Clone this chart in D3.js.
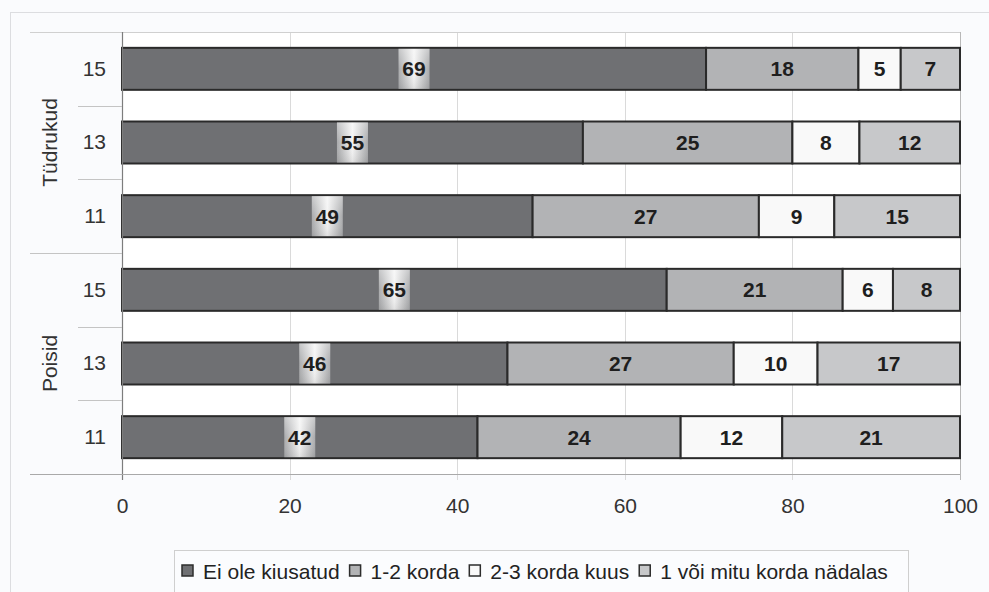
<!DOCTYPE html>
<html><head><meta charset="utf-8">
<script src="https://cdn.jsdelivr.net/npm/d3@7"></script>
<style>
html,body{margin:0;padding:0;background:#fafbfd;}
svg{display:block;font-family:"Liberation Sans",Arial,sans-serif;}
</style></head>
<body>
<svg id="chart" width="989" height="592"></svg>
<script>
const groups = ["Tüdrukud","Tüdrukud","Tüdrukud","Poisid","Poisid","Poisid"];
const ages = ["15","13","11","15","13","11"];
const seriesNames = ["Ei ole kiusatud","1-2 korda","2-3 korda kuus","1 või mitu korda nädalas"];
const neverBullied = [69,55,49,65,46,42];
const once12 = [18,25,27,21,27,24];
const monthly23 = [5,8,9,6,10,12];
const weekly = [7,12,15,8,17,21];
const xTicks = [0,20,40,60,80,100];
const colors = ["#6f7073","#b2b3b5","#f9f9f9","#c7c8ca"];

const FS = 21;
const svg = d3.select("#chart");
const W = 989, H = 592;
const m = {left:122, right:29, top:32, bottom:118};
const pw = W - m.left - m.right, ph = H - m.top - m.bottom;

// outer frame
svg.append("rect").attr("x",10.5).attr("y",12.5).attr("width",W).attr("height",H)
  .attr("fill","#fafbfd").attr("stroke","#dcdde0");

const rows = ages.map((a,i)=>({key:i, age:a, group:groups[i],
  s0:neverBullied[i], s1:once12[i], s2:monthly23[i], s3:weekly[i]}));

const x = d3.scaleLinear().domain([0,100]).range([m.left, m.left+pw]);
const y = d3.scaleBand().domain(rows.map(d=>d.key)).range([m.top, m.top+ph]).paddingInner(0.43).paddingOuter(0.215);
const yb = d3.scaleBand().domain(rows.map(d=>d.key)).range([m.top, m.top+ph]);

// plot area
svg.append("rect").attr("x",m.left).attr("y",m.top).attr("width",pw).attr("height",ph).attr("fill","#ffffff");

// gridlines
const g = svg.append("g");
g.selectAll("line.grid").data(xTicks.slice(1)).join("line")
  .attr("x1",d=>Math.round(x(d))+0.5).attr("x2",d=>Math.round(x(d))+0.5)
  .attr("y1",m.top).attr("y2",m.top+ph+6)
  .attr("stroke",(d)=> d===100 ? "#b8b8b8" : "#dadada").attr("stroke-width",1);
// top border
svg.append("line").attr("x1",30).attr("x2",m.left+pw).attr("y1",m.top+0.5).attr("y2",m.top+0.5).attr("stroke","#d0d0d0");

// stacked bars
const stack = d3.stack().keys(["s0","s1","s2","s3"]).offset(d3.stackOffsetExpand);
const stacked = stack(rows);
const defs = svg.append("defs");
const grad = defs.append("linearGradient").attr("id","lblgrad").attr("x1","0").attr("x2","1").attr("y1","0").attr("y2","0");
grad.append("stop").attr("offset","0%").attr("stop-color","#a9aaac");
grad.append("stop").attr("offset","50%").attr("stop-color","#f4f4f4");
grad.append("stop").attr("offset","100%").attr("stop-color","#a9aaac");
const grad2 = defs.append("linearGradient").attr("id","lblgrad2").attr("x1","0").attr("x2","0").attr("y1","0").attr("y2","1");
grad2.append("stop").attr("offset","0%").attr("stop-color","#ffffff").attr("stop-opacity",0.35);
grad2.append("stop").attr("offset","50%").attr("stop-color","#ffffff").attr("stop-opacity",0);
grad2.append("stop").attr("offset","100%").attr("stop-color","#000000").attr("stop-opacity",0.08);

stacked.forEach((layer,li)=>{
  const lg = svg.append("g");
  lg.selectAll("rect").data(layer).join("rect")
    .attr("x",d=>x(d[0]*100)).attr("width",d=>x(d[1]*100)-x(d[0]*100))
    .attr("y",(d,i)=>y(rows[i].key)).attr("height",y.bandwidth())
    .attr("fill",colors[li]).attr("stroke","#2a2a2a").attr("stroke-width",2);
});

// labels
stacked.forEach((layer,li)=>{
  layer.forEach((d,i)=>{
    const cx = (x(d[0]*100)+x(d[1]*100))/2;
    const cy = y(rows[i].key)+y.bandwidth()/2;
    const val = rows[i]["s"+li];
    if(li===0){
      svg.append("rect").attr("x",cx-15.5).attr("y",y(rows[i].key)+1).attr("width",31).attr("height",y.bandwidth()-2)
        .attr("fill","url(#lblgrad)");
      svg.append("rect").attr("x",cx-15.5).attr("y",y(rows[i].key)+1).attr("width",31).attr("height",y.bandwidth()-2)
        .attr("fill","url(#lblgrad2)");
    }
    svg.append("text").attr("x",cx).attr("y",cy).attr("dy","0.36em").attr("text-anchor","middle")
      .attr("font-size",FS).attr("font-weight","bold").attr("fill","#1e1e1e").text(val);
  });
});

// left axis line
svg.append("line").attr("x1",m.left+0.5).attr("x2",m.left+0.5).attr("y1",m.top).attr("y2",m.top+ph+6).attr("stroke","#7d7d7d").attr("stroke-width",1.2);
// bottom axis line
svg.append("line").attr("x1",30).attr("x2",m.left+pw).attr("y1",m.top+ph+0.5).attr("y2",m.top+ph+0.5).attr("stroke","#a9a9a9").attr("stroke-width",1.2);

// x tick labels
const xAxis = d3.axisBottom(x).tickValues(xTicks).tickSize(0).tickPadding(24);
const xa = svg.append("g").attr("transform",`translate(0,${m.top+ph})`).call(xAxis);
xa.select(".domain").remove();
xa.selectAll("text").attr("font-size",FS).attr("fill","#333").attr("font-family","Liberation Sans, Arial, sans-serif");

// y labels (ages)
const ya = svg.append("g").attr("transform",`translate(${m.left},0)`)
  .call(d3.axisLeft(y).tickSize(0).tickPadding(16).tickFormat(k=>rows[k].age));
ya.select(".domain").remove();
ya.selectAll("text").attr("font-size",FS).attr("fill","#333").attr("font-family","Liberation Sans, Arial, sans-serif");

// separators
rows.forEach((r,i)=>{
  if(i===0) return;
  const yy = Math.round(yb(r.key))+0.5;
  const isGroup = r.group !== rows[i-1].group;
  svg.append("line").attr("x1",isGroup?30:78).attr("x2",m.left).attr("y1",yy).attr("y2",yy)
    .attr("stroke","#c4c4c4").attr("stroke-width",1);
});

// group labels
const groupNames = Array.from(new Set(groups));
groupNames.forEach(gn=>{
  const idx = rows.filter(r=>r.group===gn).map(r=>r.key);
  const y0 = yb(idx[0]), y1 = yb(idx[idx.length-1])+yb.bandwidth();
  const cy = (y0+y1)/2;
  svg.append("text").attr("transform",`translate(57,${cy}) rotate(-90)`).attr("text-anchor","middle")
    .attr("font-size",FS).attr("fill","#333").text(gn);
});

// legend
const lgx = 174, lgy = 550;
const leg = svg.append("g");
leg.append("rect").attr("x",lgx+0.5).attr("y",lgy+0.5).attr("width",734).attr("height",60).attr("fill","#fbfcfe").attr("stroke","#cfcfcf");
let cx = 182;
seriesNames.forEach((n,i)=>{
  leg.append("rect").attr("x",cx).attr("y",565).attr("width",11).attr("height",11)
    .attr("fill",colors[i]).attr("stroke","#2d2d2d").attr("stroke-width",1.5);
  const t = leg.append("text").attr("x",cx+21).attr("y",571).attr("dy","0.36em")
    .attr("font-size",FS).attr("fill","#222").text(n);
  cx += 21 + t.node().getComputedTextLength() + 10;
});
</script>
</body></html>
